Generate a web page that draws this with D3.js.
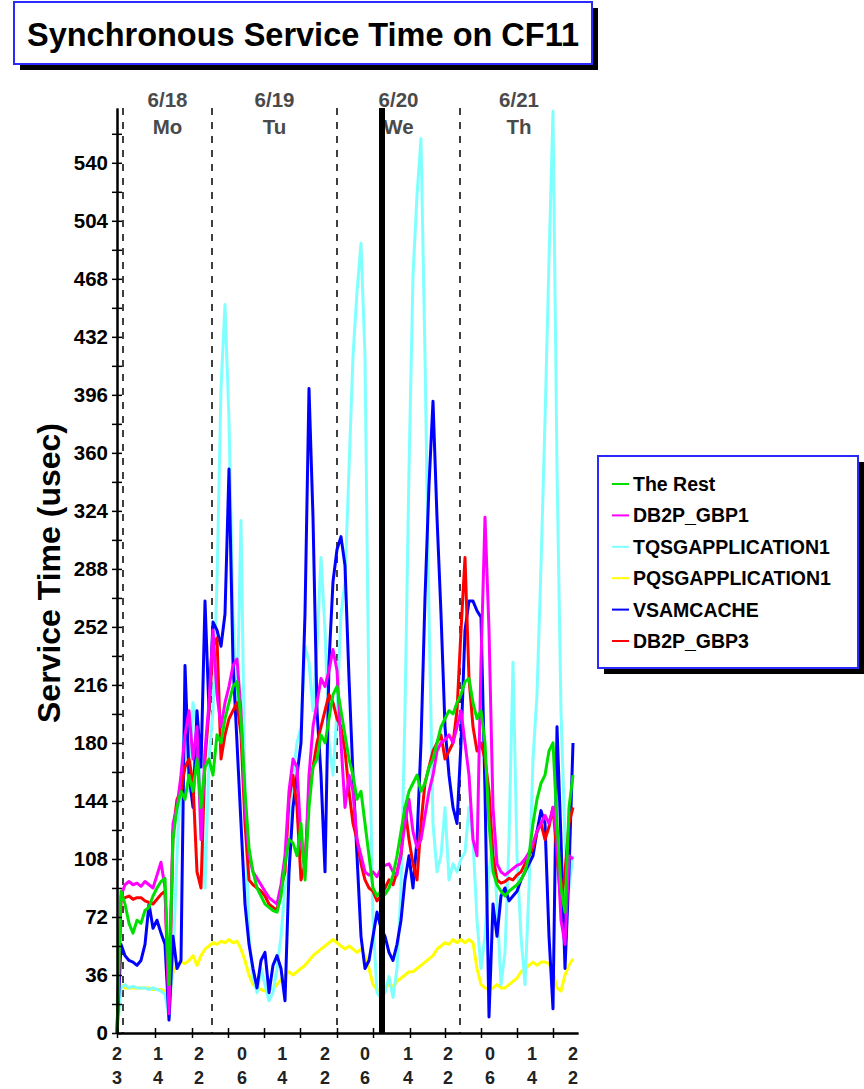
<!DOCTYPE html>
<html>
<head>
<meta charset="utf-8">
<script src="https://cdn.jsdelivr.net/npm/d3@7"></script>
<style>
    body { margin: 0; background: #fff; }
    text { font-family: "Liberation Sans", Arial, sans-serif; font-weight: bold; }
</style>
</head>
<body>
<div id="chart"></div>
<script>
// series values, one per sample slot (usec)
const theRest = [0, 88, 80, 68, 62, 70, 68, 76, 78, 85, 90, 94, 96, 30, 120, 140, 150, 145, 160, 150,
    170, 140, 165, 170, 160, 185, 180, 195, 205, 215, 218, 195, 150, 115, 100, 90, 85, 80, 78, 76,
    75, 85, 105, 120, 118, 110, 130, 95, 140, 165, 170, 185, 180, 195, 210, 215, 200, 185, 170, 160,
    145, 150, 130, 110, 90, 85, 88, 86, 90, 98, 110, 125, 140, 150, 155, 160, 150, 155, 165, 170,
    180, 190, 195, 200, 198, 205, 210, 218, 220, 205, 195, 200, 180, 130, 100, 92, 88, 85, 88, 90,
    92, 95, 100, 110, 130, 145, 155, 160, 175, 180, 130, 90, 75, 140, 160];
const db2pGbp1 = [0, 85, 92, 94, 92, 93, 91, 94, 92, 90, 98, 106, 90, 12, 130, 140, 160, 185, 200, 170,
    190, 120, 175, 205, 250, 210, 190, 205, 215, 228, 232, 200, 140, 110, 100, 96, 92, 88, 84, 82,
    80, 92, 110, 150, 170, 165, 120, 100, 160, 190, 205, 220, 215, 225, 238, 225, 180, 140, 160, 150,
    120, 110, 100, 98, 100, 97, 102, 104, 105, 100, 98, 112, 130, 145, 125, 115, 120, 135, 150, 160,
    175, 180, 182, 185, 180, 190, 200, 180, 160, 120, 110, 230, 320, 250, 140, 105, 100, 98, 100, 102,
    104, 105, 108, 112, 118, 125, 130, 135, 130, 140, 120, 70, 55, 110, 108];
const tqsgApplication1 = [0, 28, 30, 28, 29, 28, 28, 28, 27, 28, 27, 26, 24, 10, 45, 110, 160, 195, 150, 205,
    190, 150, 90, 170, 200, 280, 400, 452, 380, 260, 200, 318, 150, 60, 35, 25, 40, 30, 20, 25,
    40, 60, 90, 100, 160, 180, 190, 240, 230, 200, 240, 295, 250, 180, 160, 200, 260, 280, 350, 420,
    460, 490, 420, 200, 70, 25, 22, 25, 35, 22, 40, 90, 200, 350, 470, 520, 555, 420, 260, 130,
    100, 110, 140, 95, 105, 100, 108, 112, 140, 120, 70, 40, 60, 100, 120, 80, 30, 50, 120, 230,
    110, 60, 30, 90, 170, 210, 290, 380, 480, 572, 350, 200, 120, 90, 110];
const pqsgApplication1 = [0, 30, 28, 28, 28, 28, 28, 28, 28, 27, 27, 27, 26, 18, 38, 42, 44, 43, 45, 48,
    42, 48, 52, 54, 56, 55, 57, 56, 58, 56, 57, 52, 45, 36, 30, 28, 27, 26, 28, 27,
    30, 33, 36, 38, 36, 38, 40, 42, 45, 48, 50, 52, 54, 56, 58, 56, 54, 52, 54, 52,
    50, 52, 48, 40, 30, 27, 26, 28, 30, 29, 32, 34, 36, 38, 38, 40, 42, 44, 46, 48,
    52, 54, 56, 55, 58, 56, 58, 56, 58, 56, 40, 30, 28, 27, 28, 30, 28, 28, 30, 32,
    34, 38, 40, 42, 44, 42, 44, 44, 43, 38, 28, 26, 36, 42, 46];
const vsamCache = [0, 55, 48, 45, 44, 42, 45, 55, 80, 65, 70, 62, 55, 8, 60, 40, 45, 228, 160, 140,
    200, 165, 268, 200, 255, 250, 240, 260, 350, 230, 180, 130, 80, 55, 40, 28, 45, 50, 25, 42,
    48, 40, 20, 100, 140, 160, 180, 260, 400, 320, 200, 160, 100, 230, 280, 300, 308, 290, 220, 160,
    110, 60, 40, 45, 60, 75, 65, 60, 50, 45, 55, 70, 95, 110, 90, 120, 180, 270, 340, 392,
    320, 260, 190, 160, 140, 130, 180, 250, 268, 268, 262, 258, 150, 10, 80, 60, 85, 90, 82, 85,
    88, 95, 100, 105, 110, 125, 138, 130, 60, 15, 190, 120, 40, 100, 180];
const db2pGbp3 = [0, 82, 84, 85, 83, 84, 84, 82, 81, 80, 83, 86, 88, 18, 125, 145, 150, 165, 170, 155,
    100, 90, 170, 200, 240, 245, 170, 185, 195, 200, 205, 185, 130, 95, 92, 90, 88, 85, 80, 78,
    76, 90, 100, 145, 160, 140, 95, 105, 150, 165, 180, 190, 200, 210, 205, 195, 190, 175, 150, 130,
    120, 105, 95, 90, 88, 82, 85, 90, 95, 92, 100, 110, 140, 120, 105, 95, 130, 155, 165, 175,
    180, 185, 170, 175, 180, 200, 250, 295, 220, 190, 175, 180, 170, 150, 110, 95, 93, 94, 96, 95,
    98, 100, 105, 110, 115, 125, 130, 120, 128, 140, 110, 80, 100, 130, 140];

const seriesNames = ["The Rest", "DB2P_GBP1", "TQSGAPPLICATION1", "PQSGAPPLICATION1", "VSAMCACHE", "DB2P_GBP3"];
const seriesColors = ["#00e000", "#ff00ff", "#80ffff", "#ffff00", "#0000ff", "#ff0000"];
const seriesValues = [theRest, db2pGbp1, tqsgApplication1, pqsgApplication1, vsamCache, db2pGbp3];
const drawOrder = [3, 2, 4, 5, 1, 0];

// time axis (sample slots)
const dayLabels = ["6/18", "6/19", "6/20", "6/21"];
const dayNames = ["Mo", "Tu", "We", "Th"];
const dayStartSlots = [1.5, 23.75, 55, 85.75];
const hourLabels = ["23", "14", "22", "06", "14", "22", "06", "14", "22", "06", "14", "22"];
const hourLabelSlots = [0, 10.25, 20.5, 31.25, 41.3, 52, 62, 72.75, 82.75, 93.25, 103.75, 114];
const hourTickSlots = [0, 9.5, 18.75, 27.75, 36.75, 45.75, 55, 64, 73.25, 82, 91, 100, 109];
const markerSlot = 66.25;
const slotMax = 115.25;
const yMax = 574;

const svg = d3.select("#chart").append("svg")
    .attr("width", 864)
    .attr("height", 1089);

const margin = {top: 108, left: 117, right: 286, bottom: 56};
const x = d3.scaleLinear().domain([0, slotMax]).range([margin.left, 864 - margin.right]);
const y = d3.scaleLinear().domain([0, yMax]).range([1089 - margin.bottom, margin.top]);

// title box
const titleBox = {x: 14, y: 2, w: 578, h: 62};
svg.append("rect")
    .attr("x", titleBox.x + 6).attr("y", titleBox.y + 6)
    .attr("width", titleBox.w).attr("height", titleBox.h)
    .attr("fill", "#000");
svg.append("rect")
    .attr("x", titleBox.x).attr("y", titleBox.y)
    .attr("width", titleBox.w).attr("height", titleBox.h)
    .attr("fill", "#fff").attr("stroke", "#2a2aff").attr("stroke-width", 2);
svg.append("text")
    .attr("x", 303).attr("y", 46)
    .attr("text-anchor", "middle")
    .style("font-size", "32.5px")
    .attr("fill", "#000")
    .text("Synchronous Service Time on CF11");

// day separators
svg.selectAll("line.day")
    .data(dayStartSlots)
    .enter()
    .append("line")
        .attr("class", "day")
        .attr("x1", d => x(d)).attr("x2", d => x(d))
        .attr("y1", y(yMax)).attr("y2", y(0))
        .attr("stroke", "#000")
        .attr("stroke-width", 1.5)
        .attr("stroke-dasharray", "7,7");

// day labels centered in each day
const dayEnds = dayStartSlots.slice(1).concat([slotMax]);
dayLabels.forEach((lbl, i) => {
    const cx = (x(dayStartSlots[i]) + x(dayEnds[i])) / 2;
    svg.append("text")
        .attr("x", cx).attr("y", 107)
        .attr("text-anchor", "middle")
        .attr("fill", "#4a4a4a")
        .style("font-size", "20.5px")
        .text(lbl);
    svg.append("text")
        .attr("x", cx).attr("y", 134)
        .attr("text-anchor", "middle")
        .attr("fill", "#4a4a4a")
        .style("font-size", "20.5px")
        .text(dayNames[i]);
});

// series lines
const line = d3.line()
    .x((d, i) => x(i))
    .y(d => y(d));

drawOrder.forEach(k => {
    svg.append("path")
        .datum(seriesValues[k])
        .attr("fill", "none")
        .attr("stroke", seriesColors[k])
        .attr("stroke-width", 3)
        .attr("stroke-linejoin", "round")
        .attr("d", line);
});

// current-time marker
svg.append("line")
    .attr("x1", x(markerSlot)).attr("x2", x(markerSlot))
    .attr("y1", y(yMax)).attr("y2", y(0))
    .attr("stroke", "#000")
    .attr("stroke-width", 6);

// y axis
const yTickValues = d3.range(0, yMax, 18);
const yAxis = svg.append("g")
    .attr("transform", "translate(" + margin.left + ",0)")
    .call(d3.axisLeft(y)
        .tickValues(yTickValues)
        .tickSizeInner(5)
        .tickSizeOuter(0)
        .tickPadding(4)
        .tickFormat(d => d % 36 === 0 ? d : ""));
svg.append("g")
    .attr("transform", "translate(" + margin.left + ",0)")
    .call(d3.axisRight(y)
        .tickValues(yTickValues)
        .tickSizeInner(5)
        .tickSizeOuter(0)
        .tickFormat(""));
yAxis.selectAll("text")
    .style("font-size", "20.5px")
    .attr("fill", "#000");

svg.append("text")
    .attr("transform", "translate(60,573) rotate(-90)")
    .attr("text-anchor", "middle")
    .style("font-size", "32px")
    .attr("fill", "#000")
    .text("Service Time (usec)");

// x axis
const xBase = y(0);
svg.append("g")
    .attr("transform", "translate(0," + xBase + ")")
    .call(d3.axisBottom(x)
        .tickValues(hourTickSlots)
        .tickSizeInner(5)
        .tickSizeOuter(0)
        .tickFormat(""));
svg.append("g")
    .attr("transform", "translate(0," + xBase + ")")
    .call(d3.axisTop(x)
        .tickValues(hourTickSlots)
        .tickSizeInner(5)
        .tickSizeOuter(0)
        .tickFormat(""));
svg.selectAll(".domain").attr("stroke-width", 2);
svg.selectAll(".tick line").attr("stroke-width", 1.5);

// hour labels, one digit per line
hourLabels.forEach((lbl, i) => {
    const t = svg.append("text")
        .attr("x", x(hourLabelSlots[i]))
        .attr("y", 1060)
        .attr("text-anchor", "middle")
        .attr("fill", "#222")
        .style("font-size", "18px");
    t.append("tspan").attr("x", x(hourLabelSlots[i])).attr("y", 1060).text(lbl[0]);
    t.append("tspan").attr("x", x(hourLabelSlots[i])).attr("y", 1084).text(lbl[1]);
});

// legend
const legendBox = {x: 598, y: 456, w: 260, h: 212};
svg.append("rect")
    .attr("x", legendBox.x + 6).attr("y", legendBox.y + 6)
    .attr("width", legendBox.w).attr("height", legendBox.h)
    .attr("fill", "#000");
svg.append("rect")
    .attr("x", legendBox.x).attr("y", legendBox.y)
    .attr("width", legendBox.w).attr("height", legendBox.h)
    .attr("fill", "#fff").attr("stroke", "#2a2aff").attr("stroke-width", 2);

const legendRow = d3.scaleLinear().domain([0, 5]).range([484, 641]);
const legendItems = svg.selectAll("g.legend-item")
    .data(seriesNames)
    .enter()
    .append("g")
        .attr("class", "legend-item")
        .attr("transform", (d, i) => "translate(" + 612 + "," + legendRow(i) + ")");
legendItems.append("line")
    .attr("x1", 0).attr("x2", 17)
    .attr("stroke", (d, i) => seriesColors[i])
    .attr("stroke-width", 2);
legendItems.append("text")
    .attr("x", 21)
    .attr("dy", "0.36em")
    .style("font-size", "19.5px")
    .attr("fill", "#000")
    .text(d => d);
</script>
</body>
</html>
